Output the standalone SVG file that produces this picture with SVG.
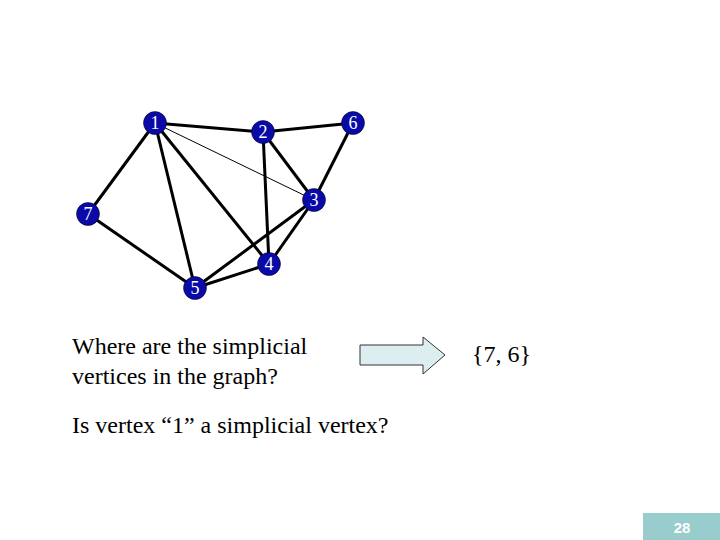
<svg xmlns="http://www.w3.org/2000/svg" width="720" height="540" viewBox="0 0 720 540">
<style>
.e{stroke:#000;stroke-width:3;fill:none}
.t{stroke:#000;stroke-width:1;fill:none}
.n circle{fill:#0A0AA8;stroke:#000;stroke-width:0.5}
.n text{fill:#fff;font-family:"Liberation Serif",serif;font-size:18px;text-anchor:middle}
.txt{font-family:"Liberation Serif",serif;font-size:24px;fill:#000}
</style>
<rect width="720" height="540" fill="#fff"/>
<g id="connectors">
<line class="e" x1="155" y1="123" x2="263" y2="132"/>
<line class="e" x1="263" y1="132" x2="353" y2="123"/>
<line class="t" x1="155" y1="123" x2="314" y2="200"/>
<line class="e" x1="155" y1="123" x2="88" y2="214"/>
<line class="e" x1="155" y1="123" x2="195" y2="288"/>
<line class="e" x1="155" y1="123" x2="269" y2="264"/>
<line class="e" x1="263" y1="132" x2="314" y2="200"/>
<line class="e" x1="263" y1="132" x2="269" y2="264"/>
<line class="e" x1="353" y1="123" x2="314" y2="200"/>
<line class="e" x1="314" y1="200" x2="195" y2="288"/>
<line class="e" x1="314" y1="200" x2="269" y2="264"/>
<line class="e" x1="88" y1="214" x2="195" y2="288"/>
<line class="e" x1="195" y1="288" x2="269" y2="264"/>
</g>
<g id="n1" class="n"><circle cx="155" cy="123" r="11.5"/><text x="155" y="129">1</text></g>
<g id="n2" class="n"><circle cx="263" cy="132" r="11.5"/><text x="263" y="138">2</text></g>
<g id="n6" class="n"><circle cx="353" cy="123" r="11.5"/><text x="353" y="129">6</text></g>
<g id="n3" class="n"><circle cx="314" cy="200" r="11.5"/><text x="314" y="206">3</text></g>
<g id="n7" class="n"><circle cx="88" cy="214" r="11.5"/><text x="88" y="220">7</text></g>
<g id="n5" class="n"><circle cx="195" cy="288" r="11.5"/><text x="195" y="294">5</text></g>
<g id="n4" class="n"><circle cx="269" cy="264" r="11.5"/><text x="269" y="270">4</text></g>
<g id="arrow"><polygon points="360,345 423,345 423,337 445,355 423,374 423,365 360,365" fill="#DDEEF0" stroke="#333" stroke-width="1"/></g>
<text class="txt" x="72" y="354">Where are the simplicial</text>
<text class="txt" x="72" y="384">vertices in the graph?</text>
<text class="txt" x="472" y="362">{7, 6}</text>
<text class="txt" x="72" y="433">Is vertex “1” a simplicial vertex?</text>
<g id="page"><rect x="643" y="513" width="77" height="27" fill="#99CCCC"/><text x="682" y="533" fill="#fff" font-family="Liberation Sans,Arial,sans-serif" font-weight="bold" font-size="15" text-anchor="middle">28</text></g>
</svg>
